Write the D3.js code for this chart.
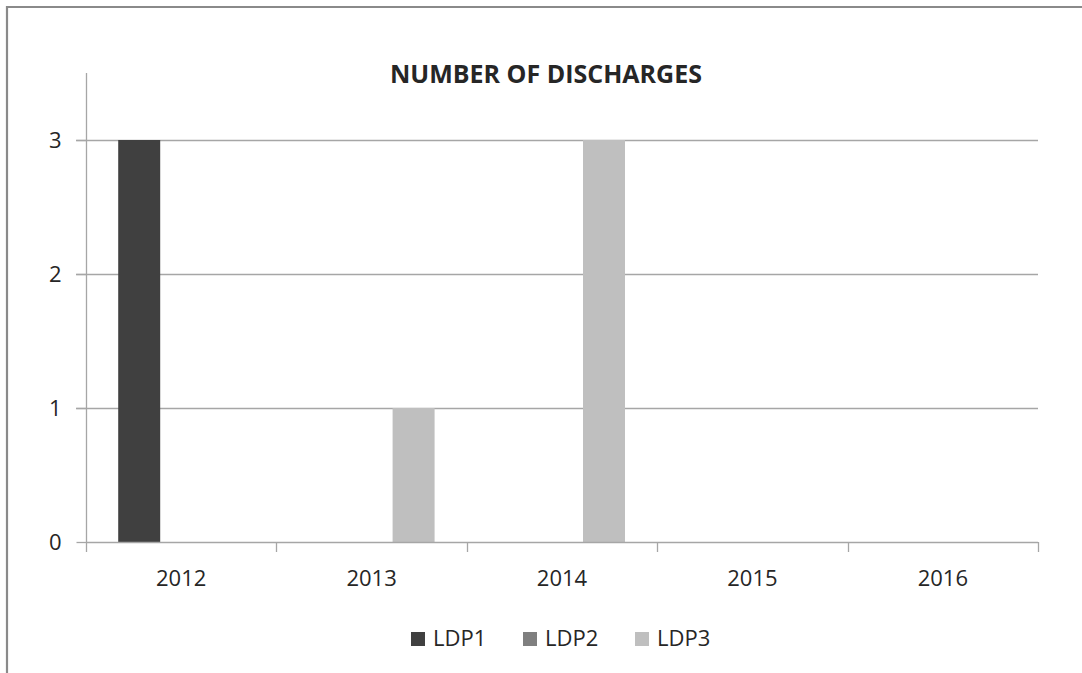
<!DOCTYPE html>
<html>
<head>
<meta charset="utf-8">
<script src="https://cdn.jsdelivr.net/npm/d3@7/dist/d3.min.js"></script>
<style>
  html, body { margin: 0; padding: 0; background: #ffffff; overflow: hidden; }
  svg { display: block; }
  text { font-family: "Open Sans", "Liberation Sans", sans-serif; fill: #262626; }
</style>
</head>
<body>
<svg id="chart" width="1082" height="673"></svg>
<script>
const categories = ["2012", "2013", "2014", "2015", "2016"];
const seriesNames = ["LDP1", "LDP2", "LDP3"];
const ldp1 = [3, 0, 0, 0, 0];
const ldp2 = [0, 0, 0, 0, 0];
const ldp3 = [0, 1, 3, 0, 0];
const yTicks = [0, 1, 2, 3];
const title = "NUMBER OF DISCHARGES";

const seriesValues = { LDP1: ldp1, LDP2: ldp2, LDP3: ldp3 };
const colors = { LDP1: "#404040", LDP2: "#7f7f7f", LDP3: "#bfbfbf" };

const svg = d3.select("#chart");
const W = 1082, H = 673;
const plot = { left: 86, right: 1038, top: 73, bottom: 542 };
const gridColor = "#a6a6a6";

// chart area frame (only top/left edges are inside the crop)
svg.append("path")
  .attr("d", `M7,${H}V7H${W}`)
  .attr("fill", "none")
  .attr("stroke", "#8a8a8a").attr("stroke-width", 2.2);

const x = d3.scaleBand().domain(categories).range([plot.left, plot.right]).paddingInner(0).paddingOuter(0);
const x1 = d3.scaleBand().domain(seriesNames).range([0, x.bandwidth()]).paddingInner(0).paddingOuter(0.767);
const y = d3.scaleLinear().domain([0, 3.5]).range([plot.bottom, plot.top]);

// gridlines
svg.append("g").selectAll("line")
  .data(yTicks.filter(d => d > 0))
  .join("line")
  .attr("x1", plot.left - 10).attr("x2", plot.right)
  .attr("y1", d => Math.round(y(d)) + 0.5).attr("y2", d => Math.round(y(d)) + 0.5)
  .attr("stroke", gridColor).attr("stroke-width", 1.3);

// bars
const groups = svg.append("g").selectAll("g")
  .data(categories)
  .join("g")
  .attr("transform", d => `translate(${x(d)},0)`);

groups.selectAll("rect")
  .data((c, i) => seriesNames.map(s => ({ s, v: seriesValues[s][i] })))
  .join("rect")
  .attr("x", d => x1(d.s))
  .attr("width", x1.bandwidth())
  .attr("y", d => y(d.v))
  .attr("height", d => y(0) - y(d.v))
  .attr("fill", d => colors[d.s]);

// y axis
const yAxis = d3.axisLeft(y).tickValues(yTicks).tickSize(10).tickPadding(15).tickFormat(d3.format("d"));
const gy = svg.append("g").attr("transform", `translate(${plot.left + 0.5},0)`).call(yAxis);
gy.select(".domain").attr("stroke", gridColor).attr("stroke-width", 1.3)
  .attr("d", `M0,${plot.top}V${plot.bottom}`);
gy.selectAll(".tick line").attr("stroke", gridColor).attr("stroke-width", 1.3);
gy.selectAll(".tick text").style("font-size", "22px").style("font-family", "'Open Sans', sans-serif").attr("fill", "#262626");

// x axis line + boundary ticks
const boundaries = categories.map(c => x(c)).concat([plot.right]);
svg.append("line")
  .attr("x1", plot.left).attr("x2", plot.right)
  .attr("y1", plot.bottom + 0.5).attr("y2", plot.bottom + 0.5)
  .attr("stroke", gridColor).attr("stroke-width", 1.5);
svg.append("g").selectAll("line")
  .data(boundaries)
  .join("line")
  .attr("x1", d => Math.round(d) + 0.5).attr("x2", d => Math.round(d) + 0.5)
  .attr("y1", plot.bottom).attr("y2", plot.bottom + 10)
  .attr("stroke", gridColor).attr("stroke-width", 1.3);

// x labels via axis
const xAxis = d3.axisBottom(x).tickSize(0).tickPadding(28);
const gx = svg.append("g").attr("transform", `translate(0,${plot.bottom})`).call(xAxis);
gx.select(".domain").remove();
gx.selectAll(".tick text").style("font-size", "22px").style("font-family", "'Open Sans', sans-serif").attr("fill", "#262626");

// title
svg.append("text")
  .attr("x", 546).attr("y", 83)
  .attr("text-anchor", "middle")
  .style("font-size", "25px").style("font-weight", "bold")
  .text(title);

// legend
const legendX = d3.scalePoint().domain(seriesNames).range([411, 635]);
const leg = svg.append("g").selectAll("g")
  .data(seriesNames)
  .join("g")
  .attr("transform", d => `translate(${legendX(d)},632)`);
leg.append("rect").attr("width", 14).attr("height", 14).attr("fill", d => colors[d]);
leg.append("text").attr("x", 22).attr("y", 14)
  .style("font-size", "22px")
  .text(d => d);
</script>
</body>
</html>
